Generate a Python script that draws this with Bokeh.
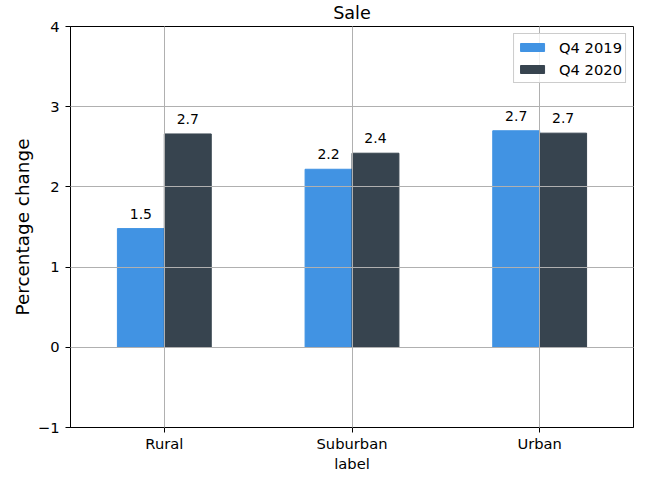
from bokeh.plotting import figure
from bokeh.models import ColumnDataSource, FixedTicker, Legend, LegendItem
from bokeh.core.properties import value
from bokeh.embed import file_html
from bokeh.resources import INLINE

categories = ["Rural", "Suburban", "Urban"]
series_names = ["Q4 2019", "Q4 2020"]
q4_2019 = [1.48, 2.22, 2.70]
q4_2020 = [2.66, 2.42, 2.67]
colors = ["#4193E3", "#37444F"]
y_ticks = [-1, 0, 1, 2, 3, 4]

FONT = "DejaVu Sans"
TICK_FS = "14.7px"

p = figure(width=640, height=485, output_backend="svg", toolbar_location=None,
           x_range=(-0.5, 2.5), y_range=(-1, 4),
           min_border_left=70, min_border_right=7, min_border_top=25, min_border_bottom=58)
p.title.text = "Sale"
p.title.align = "center"
p.title.vertical_align = "top"
p.title.text_font = FONT
p.title.text_font_size = "17.6px"
p.title.text_font_style = "normal"
p.title.text_color = "black"
p.title.offset = 0
p.title.standoff = 4

w = 0.25
xs = list(range(len(categories)))
renderers = []
for i, (vals, col) in enumerate(zip([q4_2019, q4_2020], colors)):
    off = (i - 0.5) * w
    src = ColumnDataSource(dict(x=[x + off for x in xs], top=vals,
                                lab=[f"{v:.1f}" for v in vals]))
    r = p.vbar(x="x", top="top", bottom=0, width=w, source=src,
               fill_color=col, line_color=col)
    renderers.append(r)
    p.text(x="x", y="top", text="lab", source=src, text_align="center",
           text_baseline="alphabetic", y_offset=-15, text_font=value(FONT),
           text_font_size="14px", text_color="black")

p.xaxis.ticker = FixedTicker(ticks=xs)
p.xaxis.major_label_overrides = {i: c for i, c in enumerate(categories)}
p.yaxis.ticker = FixedTicker(ticks=y_ticks)
p.yaxis.major_label_overrides = {-1: "\u22121"}
p.xaxis.axis_label = "label"
p.yaxis.axis_label = "Percentage change"

for ax in [p.xaxis[0], p.yaxis[0]]:
    ax.major_label_text_font = FONT
    ax.major_label_text_font_size = TICK_FS
    ax.axis_label_text_font = FONT
    ax.axis_label_text_font_style = "normal"
    ax.axis_line_color = "black"
    ax.major_tick_line_color = "black"
    ax.major_tick_in = 0
    ax.major_tick_out = 5
    ax.minor_tick_line_color = None
    ax.major_label_text_color = "black"
    ax.axis_label_text_color = "black"
p.xaxis.axis_label_text_font_size = TICK_FS
p.yaxis.axis_label_text_font_size = "18.4px"
p.xaxis.axis_label_standoff = 0
p.yaxis.axis_label_standoff = 2
p.yaxis.major_label_standoff = 6
p.xaxis.major_label_standoff = 2

p.outline_line_color = "black"
p.outline_line_alpha = 1
for g in [p.xgrid[0], p.ygrid[0]]:
    g.grid_line_color = "#b0b0b0"
    g.grid_line_width = 1
    g.level = "overlay"
p.xgrid.ticker = FixedTicker(ticks=xs)
p.ygrid.ticker = FixedTicker(ticks=y_ticks)

legend = Legend(items=[LegendItem(label=n, renderers=[r]) for n, r in zip(series_names, renderers)],
                location="top_right")
legend.label_text_font = FONT
legend.label_text_font_size = TICK_FS
legend.label_text_color = "black"
legend.border_line_color = "#cccccc"
legend.border_line_alpha = 1
legend.background_fill_alpha = 0.8
legend.glyph_width = 30
legend.glyph_height = 10
legend.label_height = 20
legend.label_standoff = 12
legend.spacing = 2
legend.padding = 3
legend.margin = 7
p.add_layout(legend)

open("out.html", "w").write(file_html(p, INLINE))
